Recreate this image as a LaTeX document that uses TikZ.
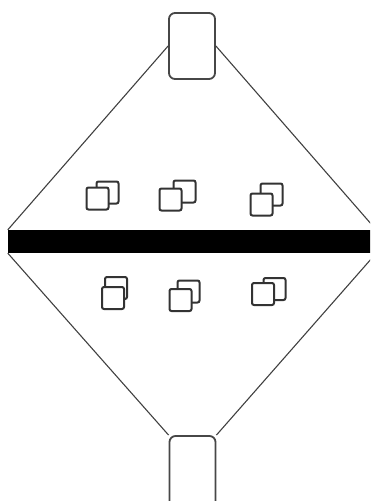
\documentclass[tikz,border=0pt]{standalone}
\begin{document}
\begin{tikzpicture}[x=1pt,y=-1pt,
  port/.style={draw=black!72,line width=1.8pt,rounded corners=6pt,fill=white,minimum width=46pt,minimum height=66pt,inner sep=0pt},
  bar/.style={fill=black,draw=none,minimum width=368pt,minimum height=23pt,inner sep=0pt},
  sq/.style={draw=black!80,line width=2pt,rounded corners=2pt,fill=white,minimum size=22pt,inner sep=0pt},
  edge/.style={draw=black!75,line width=1.1pt}]
\useasboundingbox (0,0) rectangle (370,501);
\clip (0,0) rectangle (370,501);
\node[bar] (bar) at (192,241.5) {};
\node[port] (top) at (192,46) {};
\node[port,minimum height=80pt] (bot) at (192.5,476) {};
\draw[edge] (top.west) -- (bar.north west);
\draw[edge] (top.east) -- (bar.north east);
\draw[edge] (bot.north west) -- (bar.south west);
\draw[edge] (bot.north east) -- (bar.south east);
% icons upper row
\node[sq] (b1) at (107.5,192.5) {};
\node[sq] (f1) at (97.5,198.5) {};
\node[sq] (b2) at (184.5,191.5) {};
\node[sq] (f2) at (170.5,199.5) {};
\node[sq] (b3) at (271.5,194.5) {};
\node[sq] (f3) at (261.5,204.5) {};
% icons lower row
\node[sq] (b4) at (116,288) {};
\node[sq] (f4) at (113,298) {};
\node[sq] (b5) at (188.5,291.5) {};
\node[sq] (f5) at (180.5,300) {};
\node[sq] (b6) at (274.5,289) {};
\node[sq] (f6) at (263,294) {};
\end{tikzpicture}
\end{document}
